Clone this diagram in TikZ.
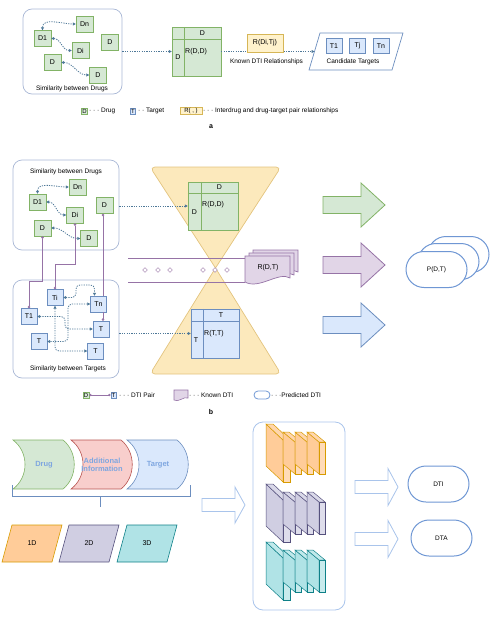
\documentclass[tikz,border=0pt]{standalone}
\usepackage{fontspec}
\setmainfont{Liberation Sans}
\usetikzlibrary{arrows.meta,shapes.geometric,shapes.misc}
\definecolor{drugfill}{HTML}{D5E8D4}
\definecolor{drugline}{HTML}{82B366}
\definecolor{tgtfill}{HTML}{DAE8FC}
\definecolor{tgtline}{HTML}{6C8EBF}
\definecolor{relfill}{HTML}{FFF2CC}
\definecolor{relline}{HTML}{D6B656}
\definecolor{dtifill}{HTML}{E1D5E7}
\definecolor{dtiline}{HTML}{9673A6}
\definecolor{simline}{HTML}{4E7898}
\definecolor{boxline}{HTML}{A9B8D6}
\definecolor{glassfill}{HTML}{FCE9BC}
\definecolor{glassline}{HTML}{E3C47E}
\definecolor{predline}{HTML}{6F97D4}
\definecolor{hollowline}{HTML}{A9C4EB}
\definecolor{labelblue}{HTML}{7EA6E0}
\definecolor{addfill}{HTML}{F8CECC}
\definecolor{addline}{HTML}{B85450}
\definecolor{onefill}{HTML}{FFCC99}
\definecolor{oneline}{HTML}{D79B00}
\definecolor{twofill}{HTML}{D0CEE2}
\definecolor{twoline}{HTML}{56517E}
\definecolor{threefill}{HTML}{B0E3E6}
\definecolor{threeline}{HTML}{0E8088}
\tikzset{
  lbl/.style={font=\fontsize{6.5}{7.5}\selectfont, inner sep=0pt},
  cell/.style={font=\fontsize{7}{8}\selectfont, inner sep=0pt},
  drug/.style={draw=drugline, fill=drugfill, minimum width=17pt, minimum height=16pt, inner sep=0pt, font=\fontsize{7}{8}\selectfont},
  tgt/.style={draw=tgtline, fill=tgtfill, minimum width=16pt, minimum height=16pt, inner sep=0pt, font=\fontsize{7}{8}\selectfont},
  lgdkey/.style={inner sep=0.8pt, line width=0.5pt, font=\fontsize{6}{7}\selectfont},
  simbox/.style={draw=boxline, fill=white, rounded corners=9pt, line width=0.7pt},
  mat/.style={minimum width=49pt, minimum height=49pt, inner sep=0pt},
  sim/.style={draw=simline, line width=0.8pt, dash pattern=on 1.2pt off 1.2pt, {Triangle[length=3pt,width=3pt]}-{Triangle[length=3pt,width=3pt]}},
  simto/.style={draw=simline, line width=0.8pt, dash pattern=on 1.2pt off 1.2pt, -{Triangle[length=3pt,width=3pt]}},
  pair/.style={draw=dtiline, line width=0.6pt},
  pred/.style={rounded rectangle, draw=predline, fill=white, line width=1pt, minimum width=61pt, minimum height=36pt, inner sep=0pt, font=\fontsize{6.5}{7.5}\selectfont},
  hollow/.style={draw=hollowline, fill=white, line width=0.8pt},
  chev/.style={font=\bfseries\fontsize{7.5}{8.5}\selectfont, text=labelblue, align=center, inner sep=0pt},
}
\begin{document}
\begin{tikzpicture}[x=1pt,y=-1pt]
\useasboundingbox (0,0) rectangle (500,621);
% a
\node[simbox, minimum width=99pt, minimum height=85pt] (simda) at (72.5,51.5) {};
\node[lbl] (sdla) at (72,89) {Similarity between Drugs};
\node[drug] (dna) at (84.5,24) {Dn};
\node[drug] (d1a) at (42.5,38.5) {D1};
\node[drug] (dra) at (110,42) {D};
\node[drug] (dia) at (80.5,50.5) {Di};
\node[drug] (dla) at (52.5,62.5) {D};
\node[drug] (dba) at (98,75) {D};
\draw[sim] (d1a.north) to[out=90,in=180] (dna.west);
\draw[sim] (d1a.east) to[out=0,in=180] (dia.west);
\draw[sim] (dla.east) to[out=0,in=180] (dba.west);
\node[mat, draw=drugline, fill=drugfill] (mdda) at (196.5,51.5) {};
\draw[drugline] ([yshift=-12pt]mdda.north west) -- ([yshift=-12pt]mdda.north east)
  ([xshift=12pt]mdda.north west) -- ([xshift=12pt]mdda.south west);
\node[cell] (mddah) at (202.5,33) {D};
\node[cell] (mddal) at (178,57.5) {D};
\node[cell, anchor=west] (mddar) at (185,52) {R(D,D)};
\draw[simto] (simda.east) -- (mdda.west);
\filldraw[fill=white, draw=tgtline, line width=0.7pt] (320,33) -- (403,33) -- (392,70) -- (309,70) -- cycle;
\coordinate (canda) at (314.5,51.5);
\draw[simto] (mdda.east) -- (canda);
\node[draw=relline, fill=relfill, minimum width=36pt, minimum height=18pt, inner sep=0pt, font=\fontsize{7}{8}\selectfont] (rdta) at (265,43) {R(Di,Tj)};
\node[lbl] (kdra) at (266.5,62) {Known DTI Relationships};
\node[tgt, minimum height=15pt] (t1a) at (334,46) {T1};
\node[tgt, minimum height=15pt] (tja) at (357.5,46) {Tj};
\node[tgt, minimum height=15pt] (tna) at (381,46) {Tn};
\node[lbl] (ctla) at (353,62) {Candidate Targets};
% legend a
\node[lgdkey, draw=drugline, fill=drugfill] (lda) at (84.5,111) {D};
\node[lbl, anchor=west] (ldat) at (89,111) {· · · Drug};
\node[lgdkey, draw=tgtline, fill=tgtfill] (lta) at (133,111) {T};
\node[lbl, anchor=west] (ltat) at (138,111) {· · Target};
\node[lgdkey, draw=relline, fill=relfill, minimum width=22pt] (lra) at (191,111) {R( , )};
\node[lbl, anchor=west] (lrat) at (203,111) {· · · Interdrug and drug-target pair relationships};
\node[cell, font=\bfseries\fontsize{7}{8}\selectfont] (la) at (211,127) {a};
% b
\filldraw[fill=glassfill, draw=glassline, line width=0.7pt, rounded corners=5pt] (215.5,268) -- (150,167) -- (281,167) -- (215.5,268);
\filldraw[fill=glassfill, draw=glassline, line width=0.7pt, rounded corners=5pt] (215.5,268) -- (281,374) -- (150,374) -- (215.5,268);
\node[simbox, minimum width=106pt, minimum height=90pt] (simdb) at (66,205) {};
\node[lbl] (sdlb) at (66,172) {Similarity between Drugs};
\node[simbox, minimum width=106pt, minimum height=98pt] (simtb) at (66,329) {};
\node[lbl] (stlb) at (68,369) {Similarity between Targets};
\node[drug] (dnb) at (77.5,187) {Dn};
\node[drug] (d1b) at (37.5,202) {D1};
\node[drug] (drb) at (104.5,205.5) {D};
\node[drug] (dib) at (75,215) {Di};
\node[drug] (dlb) at (42.5,228) {D};
\node[drug] (dbb) at (89,238.5) {D};
\draw[sim] (d1b.north) to[out=90,in=180] (dnb.west);
\draw[sim] (d1b.east) to[out=0,in=180] (dib.west);
\draw[sim] (dlb.east) to[out=0,in=180] (dbb.west);
\node[tgt] (tib) at (55,297.5) {Ti};
\node[tgt] (tnb) at (98.5,304) {Tn};
\node[tgt] (t1b) at (29,316.5) {T1};
\node[tgt] (trb) at (101,329) {T};
\node[tgt] (tlb) at (39,341.5) {T};
\node[tgt] (tbb) at (95.5,351) {T};
\draw[sim, rounded corners=4pt] (tib.east) -| (76,285) -| ([xshift=-4pt]tnb.north);
\draw[sim, rounded corners=4pt] (tnb.west) -| (68,341.5) -- (tlb.east);
\draw[sim, rounded corners=4pt] (t1b.east) -| (65,329) -- (trb.west);
\draw[sim, rounded corners=4pt] (tib.south) |- (tbb.west);
\draw[pair, {Circle[length=2.6pt]}-{Circle[length=2.6pt]}] (dlb.south) -- (42.5,281) -| (t1b.north);
\draw[pair, {Circle[length=2.6pt]}-{Circle[length=2.6pt]}] (dib.south) -- (75,264) -| (tib.north);
\draw[pair, {Circle[length=2.6pt]}-] ([xshift=-1.5pt]drb.south) -- ([xshift=4.5pt]tnb.north);
\draw[pair, -{Circle[length=2.6pt]}] ([xshift=4.5pt]tnb.south) -- ([xshift=2pt]trb.north);
\node[mat, draw=drugline, fill=drugfill, minimum width=50pt, minimum height=48pt] (mddb) at (213,206) {};
\draw[drugline] ([yshift=-11pt]mddb.north west) -- ([yshift=-11pt]mddb.north east)
  ([xshift=13pt]mddb.north west) -- ([xshift=13pt]mddb.south west);
\node[cell] (mddbh) at (219.5,187.5) {D};
\node[cell] (mddbl) at (194.5,212) {D};
\node[cell, anchor=west] (mddbr) at (202,205) {R(D,D)};
\draw[simto] (simdb.east |- mddb.west) -- (mddb.west);
\node[mat, draw=tgtline, fill=tgtfill, minimum width=48pt] (mttb) at (215,333.5) {};
\draw[tgtline] ([yshift=-12pt]mttb.north west) -- ([yshift=-12pt]mttb.north east)
  ([xshift=12pt]mttb.north west) -- ([xshift=12pt]mttb.south west);
\node[cell] (mttbh) at (221,315) {T};
\node[cell] (mttbl) at (196,340) {T};
\node[cell, anchor=west] (mttbr) at (204,334) {R(T,T)};
\draw[simto] (simtb.east |- mttb.west) -- (mttb.west);
\draw[dtiline, line width=0.7pt] (128,258) -- (245,258) (128,282) -- (245,282);
\foreach \x in {145,158,170,203,215,227}
  \node[diamond, draw=dtiline, fill=white, minimum size=5pt, inner sep=0pt] (dm\x) at (\x,270) {};
\foreach \dx/\dy in {8/6,4/3,0/0}
  \filldraw[fill=dtifill, draw=dtiline, line width=0.7pt] (245+\dx,256-\dy) -- (290+\dx,256-\dy) -- (290+\dx,278-\dy)
    .. controls (279+\dx,271-\dy) and (259+\dx,290-\dy) .. (245+\dx,282-\dy) -- cycle;
\node[cell] (rdtb) at (268,268) {R(D,T)};
\foreach \y/\f/\l in {205/drugfill/drugline,265/dtifill/dtiline,325/tgtfill/tgtline}
  \filldraw[fill=\f, draw=\l, line width=0.8pt] (323,\y-8.5) -- (361,\y-8.5) -- (361,\y-22) -- (385,\y)
    -- (361,\y+22) -- (361,\y+8.5) -- (323,\y+8.5) -- cycle;
\foreach \dx/\dy in {22/15,12/8}
  \node[pred] (pdt\dx) at (436.5+\dx,269.5-\dy) {};
\node[pred] (pdt) at (436.5,269.5) {P(D,T)};
% legend b
\node[lgdkey, draw=drugline, fill=drugfill] (lbd) at (86,395) {D};
\node[lgdkey, draw=tgtline, fill=tgtfill] (lbt) at (113.5,395) {T};
\draw[pair, {Circle[length=2.4pt]}-{Circle[length=2.4pt]}] (lbd.east) -- (lbt.west);
\node[lbl, anchor=west] (lbpt) at (119,395) {· · · DTI Pair};
\filldraw[fill=dtifill, draw=dtiline, line width=0.6pt] (174,390) -- (188,390) -- (188,398)
  .. controls (184,396) and (178,403) .. (174,400) -- cycle;
\node[lbl, anchor=west] (lbkt) at (189,395) {· · · Known DTI};
\node[rounded rectangle, draw=predline, line width=0.8pt, minimum width=16pt, minimum height=8pt, inner sep=0pt] (lbp) at (262,395) {};
\node[lbl, anchor=west] (lbpd) at (271,395) {· · ·Predicted DTI};
\node[cell, font=\bfseries\fontsize{7}{8}\selectfont] (lb) at (211,412) {b};
% c
\foreach \x/\f/\l in {13/drugfill/drugline,71/addfill/addline,127/tgtfill/tgtline}
  \filldraw[fill=\f, draw=\l, line width=0.6pt] (\x,440) -- (\x+50,440) .. controls (\x+65,452) and (\x+65,477) .. (\x+50,489)
    -- (\x,489) .. controls (\x+16,477) and (\x+16,452) .. (\x,440) -- cycle;
\node[chev] (cdrug) at (44,465) {Drug};
\node[chev] (cadd) at (102,465) {Additional\\Information};
\node[chev] (ctgt) at (158,465) {Target};
\draw[tgtline, line width=0.8pt] (12,485) -- (12,496) -- (190,496) -- (190,485) (100,496) -- (100,507);
\foreach \x/\f/\l in {0/onefill/oneline,57/twofill/twoline,115/threefill/threeline}
  \filldraw[fill=\f, draw=\l, line width=0.6pt] (12+\x,525) -- (62+\x,525) -- (52+\x,562) -- (2+\x,562) -- cycle;
\node[cell] (p1d) at (32,543.5) {1D};
\node[cell] (p2d) at (89,543.5) {2D};
\node[cell] (p3d) at (147,543.5) {3D};
\filldraw[hollow] (202,498.5) -- (235,498.5) -- (235,487) -- (245,505) -- (235,523) -- (235,511.5) -- (202,511.5) -- cycle;
\node[draw=hollowline, line width=0.8pt, rounded corners=10pt, minimum width=92pt, minimum height=188pt] (netb) at (299,516) {};
\foreach \s/\f/\l in {0/onefill/oneline,60/twofill/twoline,118/threefill/threeline}{
  \filldraw[fill=\f, draw=\l, line width=0.5pt] (283,440+\s) -- (266,424+\s) -- (266,466+\s) -- (283,482+\s) -- cycle;
  \filldraw[fill=\f!80!white, draw=\l, line width=0.5pt] (283,440+\s) -- (266,424+\s) -- (273,424+\s) -- (290,440+\s) -- cycle;
  \filldraw[fill=\f!70!white, draw=\l, line width=0.5pt] (283,440+\s) rectangle (290,482+\s);
  \foreach \x in {295,307,319}{
    \filldraw[fill=\f, draw=\l, line width=0.5pt] (\x,442+\s) -- (\x-12,432+\s) -- (\x-12,464+\s) -- (\x,474+\s) -- cycle;
    \filldraw[fill=\f!80!white, draw=\l, line width=0.5pt] (\x,442+\s) -- (\x-12,432+\s) -- (\x-6,432+\s) -- (\x+6,442+\s) -- cycle;
    \filldraw[fill=\f!70!white, draw=\l, line width=0.5pt] (\x,442+\s) rectangle (\x+6,474+\s);
  }
}
\foreach \y in {487,539}
  \filldraw[hollow] (355,\y-6.5) -- (388,\y-6.5) -- (388,\y-18.5) -- (398,\y) -- (388,\y+18.5) -- (388,\y+6.5) -- (355,\y+6.5) -- cycle;
\node[pred] (dti) at (438.5,484) {DTI};
\node[pred] (dta) at (441.5,538) {DTA};
\end{tikzpicture}
\end{document}
